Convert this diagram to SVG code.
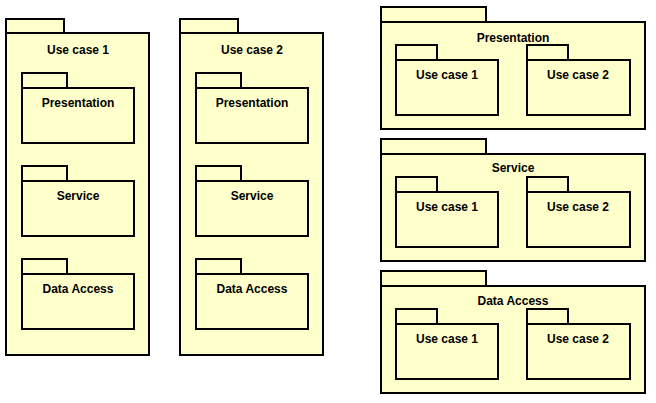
<svg xmlns="http://www.w3.org/2000/svg" width="656" height="403" viewBox="0 0 656 403">
<style>
.p{fill:#ffffcc;stroke:#000;stroke-width:2}
.t{font-family:"Liberation Sans",Arial,sans-serif;font-size:12px;font-weight:bold;fill:#000;text-anchor:middle}
</style>
<rect width="656" height="403" fill="#fff"/>
<g id="uc1">
<rect class="p" x="6" y="19" width="58" height="14"/>
<rect class="p" x="6" y="33" width="143" height="322"/>
<text class="t" x="78" y="54">Use case 1</text>
<g id="uc1-pres"><rect class="p" x="22" y="73" width="45" height="15"/><rect class="p" x="22" y="88" width="112" height="55"/><text class="t" x="78" y="107">Presentation</text></g>
<g id="uc1-svc"><rect class="p" x="22" y="166" width="45" height="15"/><rect class="p" x="22" y="181" width="112" height="55"/><text class="t" x="78" y="200">Service</text></g>
<g id="uc1-da"><rect class="p" x="22" y="259" width="45" height="15"/><rect class="p" x="22" y="274" width="112" height="55"/><text class="t" x="78" y="293">Data Access</text></g>
</g>
<g id="uc2">
<rect class="p" x="180" y="19" width="58" height="14"/>
<rect class="p" x="180" y="33" width="143" height="322"/>
<text class="t" x="252" y="54">Use case 2</text>
<g id="uc2-pres"><rect class="p" x="196" y="73" width="45" height="15"/><rect class="p" x="196" y="88" width="112" height="55"/><text class="t" x="252" y="107">Presentation</text></g>
<g id="uc2-svc"><rect class="p" x="196" y="166" width="45" height="15"/><rect class="p" x="196" y="181" width="112" height="55"/><text class="t" x="252" y="200">Service</text></g>
<g id="uc2-da"><rect class="p" x="196" y="259" width="45" height="15"/><rect class="p" x="196" y="274" width="112" height="55"/><text class="t" x="252" y="293">Data Access</text></g>
</g>
<g id="presentation">
<rect class="p" x="381" y="7" width="105" height="15"/>
<rect class="p" x="381" y="22" width="264" height="107"/>
<text class="t" x="513" y="42">Presentation</text>
<g id="pres-uc1"><rect class="p" x="396" y="45" width="41" height="15"/><rect class="p" x="396" y="60" width="102" height="55"/><text class="t" x="447" y="79">Use case 1</text></g>
<g id="pres-uc2"><rect class="p" x="527" y="45" width="41" height="15"/><rect class="p" x="527" y="60" width="103" height="55"/><text class="t" x="578" y="79">Use case 2</text></g>
</g>
<g id="service">
<rect class="p" x="381" y="139" width="105" height="15"/>
<rect class="p" x="381" y="154" width="264" height="107"/>
<text class="t" x="513" y="172">Service</text>
<g id="svc-uc1"><rect class="p" x="396" y="177" width="41" height="15"/><rect class="p" x="396" y="192" width="102" height="55"/><text class="t" x="447" y="211">Use case 1</text></g>
<g id="svc-uc2"><rect class="p" x="527" y="177" width="41" height="15"/><rect class="p" x="527" y="192" width="103" height="55"/><text class="t" x="578" y="211">Use case 2</text></g>
</g>
<g id="dataaccess">
<rect class="p" x="381" y="271" width="105" height="15"/>
<rect class="p" x="381" y="286" width="264" height="107"/>
<text class="t" x="513" y="305">Data Access</text>
<g id="da-uc1"><rect class="p" x="396" y="309" width="41" height="15"/><rect class="p" x="396" y="324" width="102" height="55"/><text class="t" x="447" y="343">Use case 1</text></g>
<g id="da-uc2"><rect class="p" x="527" y="309" width="41" height="15"/><rect class="p" x="527" y="324" width="103" height="55"/><text class="t" x="578" y="343">Use case 2</text></g>
</g>
<g id="connectors"/>
</svg>
